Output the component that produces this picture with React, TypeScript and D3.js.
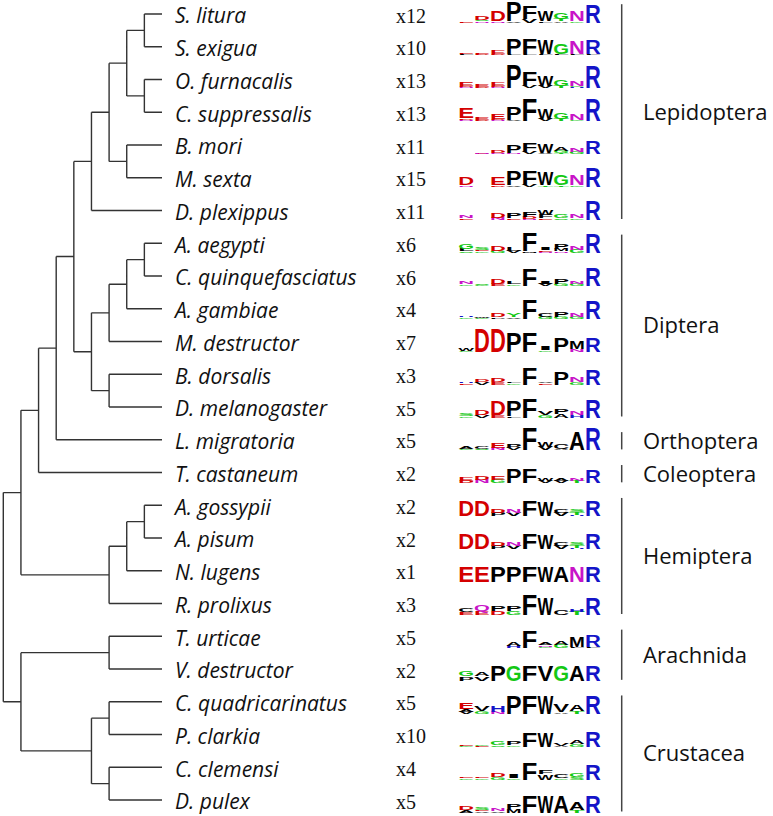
import React, { useEffect } from "react";
import * as d3 from "d3";

const W = 773;
const H = 816;

const species = [
  "S. litura", "S. exigua", "O. furnacalis", "C. suppressalis", "B. mori", "M. sexta", "D. plexippus",
  "A. aegypti", "C. quinquefasciatus", "A. gambiae", "M. destructor", "B. dorsalis", "D. melanogaster",
  "L. migratoria", "T. castaneum",
  "A. gossypii", "A. pisum", "N. lugens", "R. prolixus",
  "T. urticae", "V. destructor",
  "C. quadricarinatus", "P. clarkia", "C. clemensi", "D. pulex",
];

const counts = [
  "x12", "x10", "x13", "x13", "x11", "x15", "x11",
  "x6", "x6", "x4", "x7", "x3", "x5",
  "x5", "x2",
  "x2", "x2", "x1", "x3",
  "x5", "x2",
  "x5", "x10", "x4", "x5",
];

// Sequence logos: 9 positions; each position lists letters top -> bottom with height in bits.
const logos = [
  "E0.2 D0.6/S0.3/N0.2 D2.0/N0.3 P3.6/V0.3 F2.3/V0.6 W2.0/L0.3 G1.2/T0.5/A0.2 N1.8/G0.3 R3.3",
  "E0.3/L0.2 E0.3/D0.2 E0.8/D0.3 P2.9/L0.2 F2.9/L0.2 W2.6/L0.2 G2.0/L0.2 N2.3/L0.2 R2.6/L0.2",
  "E0.7/D0.3/N0.2 E0.4/D0.2 E0.8/D0.3/N0.2 P4.3 F2.6/V0.4 W1.8/V0.4 G1.1/T0.4 N1.0/G0.3/H0.2 R4.0",
  "E1.8/D0.3/N0.3 E0.4/D0.2 E1.0/D0.3/N0.2 P2.3/V0.2 F4.2 W1.9/V0.4 G1.3/T0.4 N1.3/G0.3 R4.2",
  "- N0.2/E0.1 D0.5/N0.3 P1.5/N0.3 F1.7/V0.4 W1.6/V0.3 A0.8/G0.4/T0.2 N0.6/G0.4 R2.5",
  "D1.4/N0.3 - E1.4/D0.3 P2.6/V0.3 F2.6/V0.4 W2.3/T0.3 G1.8/T0.3 N1.8/G0.3 R3.6",
  "N0.5/E0.3 - D0.9/N0.4 P1.0/E0.3 F1.0/D0.4/N0.2 W0.9/F0.6/E0.3 G0.6/S0.3 N0.7/G0.3 R3.6",
  "G1.0/L0.5/S0.3 S0.4/E0.3/G0.3 D1.0/G0.4 L0.6/V0.4 F3.4/M0.3 I0.5/E0.3/N0.2 P1.0/M0.4/N0.3 N0.6/G0.6 R3.6",
  "N0.4/G0.3 S0.3/G0.2 D0.9/E0.4 L0.5/G0.3 F3.0 I0.4/V0.4 P1.0/G0.4 N0.5/G0.4 R3.3",
  "H0.3/G0.3 W0.3/G0.2 D0.7/P0.3 Y0.8/V0.3 F3.6 C0.6/G0.4 P0.9/G0.4 N0.6/G0.4 R3.3",
  "W0.5/G0.2 D4.3 D4.3 P3.6 F3.6 I0.6/G0.3 P2.7 M1.5/N0.4 R2.7",
  "H0.3/E0.2 D0.4/V0.4 D0.8/E0.5 L0.3/G0.3 F3.0 V0.3/E0.3 P2.4 N1.0/G0.4 R2.9",
  "S0.5/G0.3 D0.9/V0.5 D2.6/E0.4 P2.8/L0.2 F3.5 V0.6/G0.4 P1.0/A0.6 N0.6/H0.4 R3.4",
  "A0.5/G0.3 C0.4/S0.3 E0.9/N0.4 P0.7/V0.4 F4.0 W1.0/V0.6 C0.9/A0.3 A3.4 R4.0",
  "E0.8/D0.5 D0.7/N0.6 E0.7/G0.6 P2.7 F2.7 W0.5/V0.5 A0.5/V0.5 N0.5/T0.5 R2.4",
  "D2.9 D2.9 D0.6/P0.6 N0.6/V0.6 F2.9 W2.6 C0.6/V0.6 S0.5/T0.5/H0.2 R2.9",
  "D2.9 D2.9 D0.6/P0.6 N0.6/V0.6 F2.9 W2.6 C0.6/V0.6 S0.5/T0.5/H0.2 R2.9",
  "E2.9 E2.9 P2.9 P2.9 F2.9 W2.9 A2.9 N2.9 R2.9",
  "C0.6/E0.5 Q1.1/E0.8 P1.0/D0.7 P1.0/G0.7 F3.8 W3.1 C0.9 H0.5/T0.6 R3.1",
  "- - - A0.7/H0.4 F3.0 A0.5/N0.3/G0.2 A0.7/G0.6 M1.8/L0.2 R2.1/L0.2",
  "G0.9/P0.8 A0.8/V0.8 P2.9 G2.9 F2.9 V2.9 G2.9 A2.9 R2.9",
  "E1.1/A0.5/V0.4 V0.9/G0.5 H1.2/N0.4 P3.4 F3.4 W3.3 V1.4/A0.3 A1.1/T0.5 R3.4",
  "E0.2/G0.1 G0.3/E0.2 G0.6/S0.3 P0.7/G0.3 F2.7 W2.7 V0.5/A0.2 A0.6/G0.5 R2.8",
  "E0.3/G0.2 E0.3/G0.3 D0.8/G0.4 I0.8/G0.2 F3.0 F0.6/W1.0 C0.7/G0.3 G0.8/S0.4 R2.9",
  "D0.7/A0.5 S0.4/E0.3/V0.2 N0.4/V0.3 P0.9/M0.7 F3.2 W3.2 A3.2 A1.5/T0.5 R3.2",
];

const orders = ["Lepidoptera", "Diptera", "Orthoptera", "Coleoptera", "Hemiptera", "Arachnida", "Crustacea"];
const orderFirst = [0, 7, 13, 14, 15, 19, 21];
const orderLast = [6, 12, 13, 14, 18, 20, 24];

// Tree: [height, ...children]; leaves are species names
const lepidoptera = [4, [3, [2, [1, "S. litura", "S. exigua"], [1, "O. furnacalis", "C. suppressalis"]], [2, "B. mori", "M. sexta"]], "D. plexippus"];
const diptera = [4, [3, [2, [1, "A. aegypti", "C. quinquefasciatus"], "A. gambiae"], "M. destructor"], [3, "B. dorsalis", "D. melanogaster"]];
const hemiptera = [3, [2, [1, "A. gossypii", "A. pisum"], "N. lugens"], "R. prolixus"];
const arachnida = [3, "T. urticae", "V. destructor"];
const crustacea = [4, [3, "C. quadricarinatus", "P. clarkia"], [3, "C. clemensi", "D. pulex"]];
const tree = [9, [8, [7, [6, [5, lepidoptera, diptera], "L. migratoria"], "T. castaneum"], hemiptera], [8, arachnida, crustacea]];

const letterAdvance: Record<string, number> = {
  A: 0.722, C: 0.722, D: 0.722, E: 0.667, F: 0.611, G: 0.778, H: 0.722, I: 0.278, K: 0.722,
  L: 0.611, M: 0.833, N: 0.722, P: 0.667, Q: 0.778, R: 0.722, S: 0.667, T: 0.611, V: 0.667, W: 0.944, Y: 0.667,
};
const letterColor = (l: string) => {
  if ("DE".includes(l)) return "#d40000";
  if ("RHK".includes(l)) return "#1414c8";
  if ("GSTY".includes(l)) return "#14c814";
  if ("NQ".includes(l)) return "#c814c8";
  return "#000000";
};

export default function App() {
  useEffect(() => {
    document.body.style.margin = "0";
  }, []);

  const y = d3.scalePoint<string>().domain(species).range([14, 800]);
  const logoBase = d3.scalePoint<string>().domain(species).range([22.5, 812.5]);
  const x = d3.scaleLinear().domain([0, 9]).range([162, 3.3]);
  const col = d3.scaleBand<number>().domain(d3.range(9)).range([458.3, 600.7]);
  const bits = d3.scaleLinear().domain([0, 1]).range([0, 5.5]);

  const root: any = d3.hierarchy<any>(tree, (d: any) => (typeof d === "string" ? null : d.slice(1)));
  root.eachAfter((n: any) => {
    if (!n.children) {
      n.py = y(n.data) as number;
      n.px = x(0);
    } else {
      n.py = d3.mean(n.children, (c: any) => c.py);
      n.px = x(n.data[0]);
    }
  });
  let treePath = "";
  root.each((n: any) => {
    if (n.parent) treePath += `M${n.parent.px},${n.py}H${n.px}`;
    if (n.children) {
      const ys = n.children.map((c: any) => c.py);
      treePath += `M${n.px},${d3.min(ys)}V${d3.max(ys)}`;
    }
  });

  const letters: any[] = [];
  logos.forEach((logo, i) => {
    const base = logoBase(species[i]) as number;
    logo.split(" ").forEach((colStr, k) => {
      if (colStr === "-") return;
      const items = colStr.split("/").map((s) => ({ l: s[0], h: parseFloat(s.slice(1)) }));
      let yb = base;
      items.slice().reverse().forEach((it, j) => {
        const hp = bits(it.h);
        const sx = col.bandwidth() / (letterAdvance[it.l] * 100);
        const sy = hp / 71.6;
        letters.push({ key: `${i}-${k}-${j}`, l: it.l, x: col(k) as number, y: yb, sx, sy });
        yb -= hp;
      });
    });
  });

  return (
    <svg width={W} height={H} style={{ position: "absolute", left: 0, top: 0, background: "#fff" }}>
      <path d={treePath} fill="none" stroke="#333" strokeWidth={1.4} />
      {species.map((s) => (
        <text key={s} x={175} y={(y(s) as number) + 9.3} fontFamily="'Open Sans', sans-serif" fontStyle="italic" fontSize={21} fill="#111">
          {s}
        </text>
      ))}
      {species.map((s, i) => (
        <text key={s + "c"} x={396} y={(y(s) as number) + 8.7} fontFamily="'Liberation Serif', serif" fontSize={20} fill="#111">
          {counts[i]}
        </text>
      ))}
      {letters.map((d) => (
        <text
          key={d.key}
          transform={`translate(${d.x},${d.y}) scale(${d.sx},${d.sy})`}
          fontFamily="'Liberation Sans', Arial, sans-serif"
          fontWeight="bold"
          fontSize={100}
          fill={letterColor(d.l)}
        >
          {d.l}
        </text>
      ))}
      {orders.map((o, k) => {
        const y0 = (logoBase(species[orderFirst[k]]) as number) - 18.3;
        const y1 = (logoBase(species[orderLast[k]]) as number) - 1;
        const mid = (y0 + y1) / 2;
        return (
          <g key={o}>
            <line x1={621.7} x2={621.7} y1={y0} y2={y1} stroke="#444" strokeWidth={1.5} />
            <text x={643} y={mid + 7.9} fontFamily="'Open Sans', sans-serif" fontSize={22} fill="#111">
              {o}
            </text>
          </g>
        );
      })}
    </svg>
  );
}
